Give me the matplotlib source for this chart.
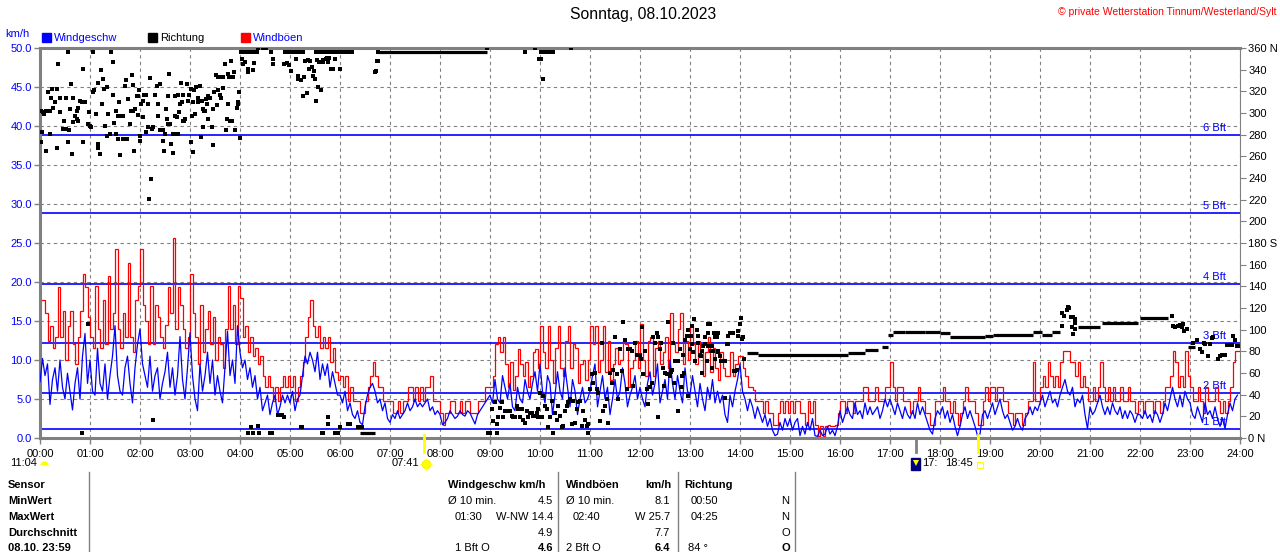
import numpy as np
import matplotlib
matplotlib.use('Agg')
import matplotlib.pyplot as plt
from matplotlib.lines import Line2D
from matplotlib.patches import Rectangle

plt.rcParams['font.family'] = ['Liberation Sans', 'DejaVu Sans']

W, H = 1280, 552
GRAY = '#808080'
BLUE = '#0000ff'

# wind speed in km/h, 3-minute readings, one row per hour (00:00 .. 23:57)
wind_speed = [
    [7.2, 10.2, 8.0, 9.5, 4.3, 7.5, 9.0, 6.0, 10.0, 6.5, 5.0, 8.3, 6.0, 3.6, 7.0, 9.0, 5.0, 10.5, 13.4, 7.0],
    [10.0, 6.0, 5.5, 11.5, 7.0, 6.0, 9.5, 5.0, 8.0, 10.5, 14.4, 8.0, 6.0, 5.5, 9.0, 10.5, 7.0, 4.5, 9.0, 12.0],
    [14.0, 9.5, 8.0, 6.5, 10.5, 6.0, 8.0, 9.0, 5.0, 7.0, 8.5, 11.0, 6.5, 9.0, 5.5, 8.0, 13.0, 7.5, 5.0, 9.0],
    [13.5, 8.0, 5.0, 3.5, 9.5, 6.0, 8.0, 11.0, 7.0, 10.0, 5.5, 8.0, 6.0, 4.5, 9.0, 13.7, 8.0, 10.0, 7.0, 14.4],
    [11.0, 9.0, 10.0, 7.5, 9.0, 6.5, 8.0, 5.0, 6.5, 3.5, 4.5, 5.5, 3.0, 4.5, 5.5, 3.0, 4.0, 5.5, 4.5, 5.5],
    [4.5, 6.0, 3.5, 5.0, 5.5, 8.0, 10.5, 9.5, 11.0, 10.0, 8.5, 11.0, 7.5, 9.5, 8.0, 9.5, 6.5, 8.5, 7.0, 5.5],
    [5.5, 4.5, 6.0, 3.5, 4.5, 3.0, 2.5, 3.5, 2.0, 1.7, 4.0, 5.5, 6.5, 7.0, 6.0, 4.5, 5.0, 3.5, 4.5, 2.5],
    [2.0, 3.0, 2.5, 3.5, 2.5, 3.0, 3.5, 4.5, 3.5, 4.0, 5.0, 4.0, 4.5, 4.0, 4.5, 5.0, 3.5, 4.0, 3.0, 3.5],
    [3.0, 1.7, 2.0, 2.5, 3.5, 3.0, 2.5, 2.8, 3.5, 3.0, 2.8, 3.5, 3.2, 2.5, 1.8, 3.0, 3.5, 4.0, 4.5, 5.0],
    [5.5, 4.5, 7.5, 5.0, 4.5, 8.0, 6.5, 5.0, 7.0, 4.0, 3.5, 6.5, 5.0, 4.5, 7.5, 6.0, 5.0, 7.0, 8.5, 6.0],
    [9.5, 6.0, 4.5, 8.0, 7.0, 3.0, 5.5, 8.5, 6.0, 5.0, 9.0, 6.5, 4.0, 7.5, 6.0, 3.0, 5.0, 6.5, 4.5, 5.0],
    [6.0, 8.0, 9.5, 4.0, 6.0, 8.0, 5.0, 6.5, 3.0, 5.0, 7.5, 5.0, 6.0, 9.0, 7.0, 4.0, 5.5, 6.5, 8.0, 5.0],
    [6.5, 5.0, 4.0, 7.0, 8.5, 5.5, 7.0, 9.5, 4.5, 6.0, 7.5, 5.0, 10.0, 7.0, 5.0, 8.0, 6.0, 4.5, 9.0, 6.0],
    [5.5, 8.0, 6.0, 4.0, 7.0, 5.0, 3.5, 6.5, 5.0, 7.5, 4.5, 6.0, 4.5, 5.5, 3.0, 2.0, 5.5, 4.0, 6.0, 7.5],
    [9.5, 6.0, 5.0, 3.5, 5.0, 4.0, 2.5, 4.0, 3.0, 2.0, 3.0, 1.5, 2.5, 1.0, 0.3, 0.5, 2.0, 1.0, 2.5, 1.5],
    [2.5, 1.0, 2.0, 2.5, 0.3, 1.5, 0.5, 2.0, 1.0, 2.5, 0.3, 0.2, 1.0, 0.3, 0.5, 1.5, 0.5, 1.0, 0.3, 1.5],
    [3.5, 2.0, 3.0, 4.0, 3.0, 2.5, 4.5, 3.0, 3.5, 2.5, 4.5, 3.0, 4.0, 3.0, 3.5, 4.0, 2.5, 3.5, 5.0, 4.0],
    [5.0, 4.0, 3.0, 4.5, 3.5, 2.5, 4.0, 3.0, 2.5, 3.5, 2.5, 4.5, 3.0, 4.0, 3.0, 2.0, 1.0, 0.5, 2.5, 3.5],
    [3.0, 4.0, 2.5, 3.5, 2.0, 3.0, 1.5, 0.3, 1.5, 3.0, 4.0, 2.5, 3.5, 2.5, 1.5, 0.3, 0.5, 3.0, 3.5, 2.5],
    [3.5, 4.5, 3.0, 4.0, 5.0, 3.5, 2.5, 3.0, 2.0, 1.0, 1.5, 2.5, 1.5, 1.0, 2.5, 3.0, 4.0, 3.0, 4.0, 3.5],
    [4.5, 5.5, 4.0, 5.0, 6.0, 4.5, 5.0, 4.0, 5.5, 6.5, 7.5, 6.0, 5.5, 6.5, 4.0, 5.0, 4.5, 5.5, 3.0, 1.2],
    [4.0, 3.0, 3.5, 4.5, 5.5, 4.0, 3.0, 4.0, 3.0, 4.5, 3.5, 3.0, 4.0, 2.5, 3.5, 2.5, 3.5, 3.0, 2.0, 3.0],
    [3.0, 2.5, 3.5, 2.5, 3.0, 2.0, 3.5, 3.0, 2.0, 3.0, 4.5, 3.5, 5.0, 6.5, 5.0, 4.0, 5.5, 4.0, 6.0, 5.0],
    [4.5, 3.0, 2.5, 4.0, 3.0, 2.0, 4.5, 3.0, 3.5, 2.5, 4.0, 2.5, 1.5, 2.5, 1.2, 3.0, 4.5, 3.5, 5.0, 5.5],
]

# gusts in km/h, same 3-minute grid
wind_gust = [
    [17.7, 17.7, 16.0, 12.5, 14.4, 11.5, 13.0, 19.4, 13.0, 16.3, 10.0, 14.4, 16.3, 12.0, 9.5, 13.0, 16.3, 21.0, 19.4, 15.5],
    [13.0, 11.5, 19.5, 14.0, 11.5, 17.7, 12.0, 20.8, 14.0, 16.0, 24.2, 14.0, 11.5, 16.0, 13.0, 22.5, 13.0, 11.0, 17.7, 19.5],
    [24.2, 17.0, 15.0, 12.0, 19.5, 12.0, 17.0, 15.5, 13.0, 11.5, 14.5, 19.4, 16.0, 25.7, 14.0, 19.4, 17.0, 14.0, 11.5, 13.0],
    [21.0, 16.0, 13.0, 9.5, 17.0, 11.0, 14.0, 16.3, 12.0, 15.5, 10.0, 13.0, 12.0, 9.0, 14.0, 19.5, 14.0, 17.0, 12.0, 19.5],
    [18.0, 13.0, 14.4, 11.0, 13.0, 10.5, 11.5, 9.5, 10.5, 8.0, 6.5, 8.0, 6.5, 4.7, 6.5, 4.7, 6.5, 8.0, 6.5, 8.0],
    [6.5, 8.0, 4.7, 6.5, 8.0, 9.7, 13.0, 15.5, 17.7, 14.4, 13.0, 14.4, 11.5, 13.0, 11.5, 13.0, 9.7, 11.5, 8.5, 7.5],
    [8.0, 6.5, 8.0, 4.7, 6.5, 4.7, 4.7, 4.7, 3.2, 3.2, 4.7, 6.5, 8.0, 9.7, 8.0, 6.5, 6.5, 4.7, 4.7, 4.7],
    [4.7, 3.2, 3.2, 4.7, 3.2, 4.7, 4.7, 6.5, 6.5, 4.7, 6.5, 4.7, 6.5, 4.7, 6.5, 6.5, 8.0, 4.7, 4.7, 4.7],
    [3.2, 1.7, 3.2, 3.2, 4.7, 4.7, 3.2, 3.2, 4.7, 3.2, 4.7, 4.7, 3.2, 3.2, 3.2, 4.7, 4.7, 4.7, 6.5, 6.5],
    [6.5, 8.0, 12.0, 13.0, 11.0, 13.0, 9.5, 6.5, 9.7, 6.2, 8.0, 11.4, 9.5, 8.0, 9.7, 6.5, 8.0, 11.0, 11.4, 9.0],
    [14.4, 11.0, 9.0, 14.4, 10.0, 7.0, 11.5, 14.4, 9.0, 8.0, 12.5, 14.4, 9.0, 12.0, 11.5, 7.0, 9.5, 10.0, 7.5, 10.0],
    [14.4, 12.0, 14.4, 8.5, 10.0, 14.4, 8.5, 12.5, 7.5, 9.5, 11.5, 9.5, 10.0, 12.5, 12.0, 6.5, 9.0, 10.0, 12.5, 9.0],
    [14.6, 10.0, 8.0, 12.5, 13.0, 8.0, 11.5, 12.5, 9.5, 11.0, 13.0, 9.0, 16.0, 12.0, 11.0, 14.0, 16.0, 9.5, 12.5, 10.0],
    [14.4, 12.0, 9.5, 12.5, 11.0, 8.0, 11.0, 13.0, 8.5, 11.5, 9.0, 7.5, 11.0, 9.0, 8.0, 8.0, 11.0, 8.0, 9.5, 10.5],
    [10.5, 9.0, 8.0, 6.5, 6.5, 6.2, 4.7, 4.7, 4.7, 3.2, 4.7, 3.2, 3.2, 1.7, 1.7, 3.2, 4.7, 3.2, 4.7, 3.2],
    [4.7, 3.2, 4.7, 4.7, 3.2, 3.2, 1.7, 4.7, 3.2, 4.7, 1.7, 0.3, 1.5, 0.3, 1.5, 1.7, 1.5, 1.5, 1.7, 3.2],
    [4.7, 4.7, 3.2, 4.7, 4.7, 3.2, 4.7, 4.7, 4.7, 6.5, 6.5, 4.7, 4.7, 4.7, 6.5, 4.7, 4.7, 4.7, 6.5, 6.5],
    [9.7, 6.5, 4.7, 6.5, 6.5, 4.7, 4.7, 4.7, 3.2, 4.7, 4.7, 6.5, 4.7, 4.7, 3.2, 3.2, 1.7, 1.7, 4.7, 4.7],
    [4.7, 6.5, 4.7, 4.7, 3.2, 4.7, 3.2, 1.7, 3.2, 4.7, 6.5, 4.7, 4.7, 4.7, 3.2, 1.7, 1.7, 4.7, 6.5, 4.7],
    [6.5, 6.5, 4.7, 6.5, 6.5, 4.7, 4.7, 3.2, 3.2, 1.7, 3.2, 3.2, 3.2, 1.7, 3.2, 4.7, 4.7, 9.7, 4.7, 4.7],
    [6.5, 8.0, 6.5, 9.7, 8.0, 6.5, 8.0, 6.5, 9.7, 11.2, 11.2, 11.2, 9.7, 9.7, 8.0, 9.7, 6.5, 8.0, 6.5, 4.7],
    [4.7, 6.5, 4.7, 6.5, 9.7, 6.5, 4.7, 6.5, 4.7, 6.5, 4.7, 4.7, 6.5, 4.7, 4.7, 6.5, 4.7, 4.7, 3.2, 4.7],
    [4.7, 3.2, 4.7, 4.7, 4.7, 3.2, 4.7, 4.7, 3.2, 4.7, 6.5, 6.5, 8.0, 11.2, 9.7, 6.5, 8.0, 6.5, 11.2, 8.0],
    [6.5, 4.7, 4.7, 6.5, 4.7, 3.2, 6.5, 4.7, 4.7, 4.7, 6.5, 4.7, 3.2, 4.7, 3.2, 4.7, 6.5, 9.7, 11.2, 11.2],
]

# wind direction readings (minute of day, degrees)
dir_night = [
    (1, 302), (3, 301), (5, 299), (7, 302), (9, 302), (12, 302), (2, 282), (1, 273), (7, 265), (12, 281),
    (9, 319), (14, 322), (13, 314), (16, 305), (18, 310), (20, 268), (20, 322), (22, 345), (24, 314), (24, 301),
    (27, 285), (29, 293), (31, 314), (31, 285), (33, 356), (34, 273), (35, 284), (36, 304), (37, 327), (38, 262),
    (39, 292), (40, 314), (42, 297), (44, 302), (44, 294), (45, 305), (46, 293), (48, 311), (50, 310), (51, 341),
    (52, 310), (52, 273), (54, 310), (57, 290), (59, 301), (60, 288),
    (61, 287), (63, 319), (64, 356), (65, 321), (67, 299), (69, 328), (69, 271), (70, 268), (72, 262), (73, 340),
    (74, 308), (76, 331), (77, 322), (78, 288), (80, 279), (80, 324), (82, 299), (84, 281), (85, 356), (87, 317),
    (87, 347), (89, 291), (91, 281), (91, 302), (93, 297), (94, 276), (95, 310), (96, 261), (97, 297), (99, 297),
    (99, 276), (102, 325), (103, 330), (104, 276), (106, 313), (108, 290), (109, 302), (110, 335), (111, 302),
    (112, 326), (113, 265), (114, 304), (116, 316), (117, 316), (117, 298), (119, 321), (120, 279), (120, 274),
    (121, 308), (123, 296), (124, 311), (125, 317), (127, 282), (127, 317), (129, 308), (130, 287), (132, 332),
    (133, 239), (131, 221), (134, 285), (136, 287), (138, 317), (140, 325), (141, 308), (142, 297), (144, 284),
    (144, 327), (146, 284), (147, 274), (147, 284), (149, 265), (150, 281), (151, 304), (152, 294), (153, 290),
    (154, 316), (155, 336), (156, 290), (157, 271), (159, 281), (159, 263), (161, 281), (162, 316), (162, 297),
    (164, 296), (165, 281), (166, 317), (167, 301), (168, 308), (169, 328), (170, 310), (171, 317), (172, 293),
    (173, 293), (174, 294), (176, 327), (177, 311), (179, 317),
    (181, 322), (181, 273), (182, 297), (183, 264), (184, 310), (185, 321), (186, 299), (187, 324), (189, 310),
    (189, 314), (192, 325), (193, 278), (194, 311), (195, 304), (196, 287), (197, 302), (198, 302), (199, 313),
    (200, 308), (201, 294), (202, 316), (204, 314), (206, 287), (207, 270), (207, 304), (209, 319), (211, 335),
    (212, 307), (213, 321), (214, 333), (215, 333), (216, 317), (217, 314), (219, 323), (219, 333), (220, 333),
    (222, 345), (223, 284), (224, 294), (225, 336), (226, 308), (227, 333), (228, 293), (229, 348), (230, 293),
    (231, 333), (232, 333), (233, 338), (234, 284), (236, 305), (237, 308), (237, 310), (239, 319), (240, 277),
    (50, 5), (57, 105), (136, 17),
]

dir_morning = [
    (241, 356), (243, 356), (245, 356), (247, 356), (249, 356), (252, 356), (254, 356), (256, 356), (258, 356),
    (260, 356), (242, 350), (244, 345), (246, 347), (249, 341), (249, 338), (256, 340), (257, 346), (262, 360),
    (267, 360), (271, 360), (277, 356), (279, 350), (280, 345), (294, 356), (297, 356), (299, 356), (293, 345),
    (296, 346), (299, 344),
    (301, 356), (303, 356), (305, 356), (307, 356), (309, 356), (312, 356), (314, 356), (316, 356), (307, 350),
    (301, 339), (309, 334), (309, 331), (313, 330), (317, 333), (316, 316), (320, 318), (318, 348), (322, 349),
    (323, 341), (324, 348), (326, 342), (327, 334), (329, 339), (330, 331), (331, 356), (332, 349), (333, 324),
    (334, 356), (335, 347), (337, 356), (337, 321), (339, 347), (340, 349), (342, 356), (343, 350), (344, 351),
    (345, 356), (346, 347), (347, 351), (348, 356), (349, 341), (350, 341), (351, 341), (352, 356), (354, 350),
    (356, 356), (331, 311), (357, 356), (360, 341),
    (361, 356), (363, 356), (365, 356), (367, 356), (369, 356), (372, 356), (374, 356), (402, 338), (403, 339),
    (404, 348), (406, 348), (405, 356),
    (537, 360), (582, 356), (594, 360), (599, 350), (601, 350), (601, 356), (603, 356), (605, 356), (607, 356),
    (609, 356), (612, 356), (614, 356), (616, 356), (604, 331), (637, 360),
    (249, 5), (256, 5), (263, 5), (253, 10), (262, 11), (276, 5), (278, 5), (285, 21), (288, 21), (290, 21),
    (293, 19), (313, 10), (314, 10), (338, 5), (340, 5), (345, 13), (346, 19), (354, 5), (357, 5), (360, 10),
    (370, 13), (372, 13), (382, 10), (384, 10), (386, 10), (538, 5), (540, 5), (548, 5),
]

dir_day = [
    (542, 27), (544, 16), (546, 33), (548, 13), (550, 19), (552, 28), (554, 33), (556, 19), (558, 25), (560, 25),
    (562, 25), (564, 25), (566, 20), (568, 19), (570, 19), (572, 30), (574, 27), (576, 19), (578, 27), (580, 17),
    (582, 14), (584, 25), (586, 19), (588, 23), (590, 23), (592, 20), (594, 20), (596, 23), (598, 27), (598, 19),
    (600, 42), (602, 19), (604, 39), (606, 30), (608, 27), (610, 10), (612, 19), (614, 34), (616, 5), (618, 23),
    (620, 17), (622, 30), (624, 20), (626, 10), (628, 11), (630, 25), (632, 30), (634, 33), (636, 36), (638, 13),
    (640, 34), (642, 14), (644, 27), (646, 33), (648, 34), (650, 11), (652, 25), (654, 17), (656, 11), (658, 13),
    (658, 5), (660, 45), (662, 59), (664, 51), (666, 60), (668, 45), (670, 42), (672, 16), (674, 88), (676, 25),
    (678, 30), (680, 36), (682, 14), (684, 60), (686, 51), (688, 63), (690, 93), (692, 59), (694, 36), (696, 82),
    (698, 62), (700, 107), (702, 90), (704, 45), (706, 82), (708, 82), (710, 80), (712, 48), (714, 88), (716, 77),
    (718, 77), (720, 77),
    (721, 73), (722, 102), (724, 59), (726, 80), (728, 45), (730, 31), (732, 47), (734, 51), (736, 93), (738, 88),
    (740, 97), (741, 19), (742, 93), (744, 82), (745, 88), (748, 65), (749, 48), (750, 60), (752, 59), (753, 107),
    (754, 107), (756, 57), (757, 61), (758, 63), (760, 88), (761, 51), (762, 71), (764, 71), (765, 71), (766, 71),
    (766, 25), (768, 82), (769, 47), (770, 57), (772, 77), (773, 60), (774, 90), (776, 94), (777, 39), (778, 100),
    (780, 82), (781, 94), (782, 103), (782, 87), (784, 79), (785, 110), (786, 71), (788, 100), (789, 88), (790, 94),
    (790, 88), (792, 77), (793, 76), (794, 80), (794, 60), (796, 85), (798, 87), (798, 93), (800, 71), (801, 105),
    (802, 97), (802, 85), (804, 105), (805, 80), (806, 85), (806, 65), (808, 80), (809, 97), (810, 73), (810, 93),
    (812, 93), (813, 79), (814, 80), (814, 97), (816, 76), (817, 71), (820, 71), (822, 71), (822, 37), (824, 87),
    (825, 87), (826, 94), (826, 87), (828, 97), (829, 97), (830, 97), (832, 97), (833, 62), (834, 62), (836, 63),
    (838, 94), (838, 99), (840, 105), (841, 111), (842, 91), (844, 93), (845, 73),
]

dir_evening = [
    (1226, 103), (1226, 115), (1229, 113), (1232, 118), (1233, 121), (1235, 120), (1237, 112), (1240, 112),
    (1242, 110), (1242, 106), (1238, 102), (1239, 96), (1242, 101),
    (1358, 113), (1360, 103), (1362, 102), (1365, 103), (1368, 104), (1370, 102), (1372, 105), (1373, 99),
    (1376, 101), (1384, 88), (1388, 90), (1392, 82), (1394, 79), (1397, 88), (1398, 87), (1401, 76), (1404, 87),
    (1406, 92), (1408, 93), (1414, 73), (1416, 76), (1418, 77), (1420, 77), (1422, 77), (1424, 86), (1426, 86),
    (1428, 86), (1430, 86), (1432, 94), (1434, 90), (1436, 85), (1438, 85),
]

# steady direction stretches: (start minute, end minute, degrees)
dir_steady = [
    (406, 536, 356), (384, 402, 5),
    (848, 862, 78), (862, 970, 77), (970, 990, 78), (990, 1006, 81), (1010, 1017, 84), (1017, 1024, 95),
    (1024, 1038, 98), (1038, 1062, 97.5), (1062, 1080, 98), (1080, 1092, 97), (1092, 1134, 93),
    (1134, 1144, 94), (1144, 1192, 95), (1192, 1202, 98), (1202, 1214, 95), (1214, 1224, 98),
    (1246, 1272, 102), (1274, 1318, 106), (1320, 1354, 111), (1378, 1386, 84),
]

bft_kmh = [1.1, 5.8, 12.2, 19.8, 28.8, 38.9]
bft_names = ['1 Bft', '2 Bft', '3 Bft', '4 Bft', '5 Bft', '6 Bft']

hour_labels = ['%02d:00' % h for h in range(25)]
deg_ticks = list(range(0, 361, 20))
deg_names = {0: 'N', 180: 'S', 360: 'N'}

table_rows = ['Sensor', 'MinWert', 'MaxWert', 'Durchschnitt', '08.10. 23:59']
speed_col = [('Ø 10 min.', '4.5'), ('01:30', 'W-NW 14.4'), ('', '4.9'), ('1 Bft O', '4.6')]
gust_col = [('Ø 10 min.', '8.1'), ('02:40', 'W 25.7'), ('', '7.7'), ('2 Bft O', '6.4')]
dir_col = [('00:50', 'N'), ('04:25', 'N'), ('', 'O'), ('84 °', 'O')]

speed = np.ravel(wind_speed)
gust = np.ravel(wind_gust)
t = np.arange(len(speed)) / 20.0
edges = np.arange(len(gust) + 1) / 20.0

fig = plt.figure(figsize=(W / 100, H / 100), dpi=100)
ax = fig.add_axes([40 / W, 1 - 438 / H, 1200 / W, 390 / H])
ax.set_xlim(0, 24)
ax.set_ylim(0, 50)

ax.set_xticks(range(25))
ax.set_xticklabels(hour_labels, fontsize=8)
ax.set_yticks(np.arange(0, 51, 5))
ax.set_yticklabels(['%.1f' % v for v in np.arange(0, 51, 5)], fontsize=8, color=BLUE)
ax.tick_params(axis='both', length=4, width=1, color=GRAY, pad=2)
ax.tick_params(axis='x', pad=4)
ax.grid(True, color=GRAY, lw=0.8, ls=(0, (3, 3)))
ax.set_axisbelow(True)
for side in ['left', 'top', 'bottom']:
    ax.spines[side].set_color(GRAY)
    ax.spines[side].set_linewidth(2.2)
ax.spines['right'].set_visible(False)

for v, name in zip(bft_kmh, bft_names):
    ax.axhline(v, color=BLUE, lw=1.2, zorder=1.5)
    ax.text(23.72, v + 0.25, name, color=BLUE, fontsize=8, ha='right', va='bottom', zorder=1.6)

ax.stairs(gust, edges, color='#ff0000', lw=0.9, baseline=None, zorder=2)
ax.plot(t, speed, color=BLUE, lw=0.9, zorder=3)

ax2 = ax.twinx()
ax2.set_ylim(0, 360)
ax2.set_yticks(deg_ticks)
ax2.set_yticklabels([('%d %s' % (d, deg_names[d])) if d in deg_names else str(d) for d in deg_ticks],
                    fontsize=8)
ax2.tick_params(axis='y', length=4, color=GRAY, pad=2)
for side in ['left', 'top', 'bottom']:
    ax2.spines[side].set_visible(False)
ax2.spines['right'].set_color(GRAY)

dots = np.array(dir_night + dir_morning + dir_day + dir_evening, dtype=float)
ax2.plot(dots[:, 0] / 60, dots[:, 1], ls='none', marker='s', ms=2.3, color='black', mew=0)
for start, end, deg in dir_steady:
    ax2.hlines(deg, start / 60, end / 60, color='black', lw=2.3)

# sun / moon marks on the time axis
xt = ax.get_xaxis_transform()
ax.plot([7 + 41 / 60] * 2, [0.008, -0.035], transform=xt, clip_on=False, color='#ffff00', lw=2, zorder=5)
ax.plot([18.75] * 2, [0.008, -0.035], transform=xt, clip_on=False, color='#ffff00', lw=2, zorder=5)
ax.plot([17.52] * 2, [0.0, -0.035], transform=xt, clip_on=False, color=GRAY, lw=2, zorder=5)


def ftext(x, y, s, **kw):
    kw.setdefault('fontsize', 8)
    kw.setdefault('va', 'center')
    fig.text(x / W, 1 - y / H, s, **kw)


def fmark(x, y, **kw):
    fig.add_artist(Line2D([x / W], [1 - y / H], transform=fig.transFigure, ls='none', **kw))


ftext(643, 15, 'Sonntag, 08.10.2023', fontsize=11.3, ha='center')
ftext(1277, 12, '© private Wetterstation Tinnum/Westerland/Sylt', fontsize=7.5, color='#ff0000', ha='right')
ftext(5, 34, 'km/h', color=BLUE)

legend = [(42, BLUE, 'Windgeschw', BLUE), (148, 'black', 'Richtung', 'black'), (241, '#ff0000', 'Windböen', BLUE)]
for x, c, label, tc in legend:
    fig.add_artist(Rectangle((x / W, 1 - 42 / H), 9 / W, 9 / H, transform=fig.transFigure, color=c))
    ftext(x + 12, 38, label, color=tc)

ftext(10, 463, '11:04')
fmark(44, 465, marker='o', ms=6, fillstyle='top', mfc='#ffff00', mfcalt='none', mew=0)
ftext(392, 463, '07:41')
fmark(426, 464, marker='o', ms=6, mfc='#ffff00', mec='#ffee00', mew=0.8)
fmark(426, 464, marker='+', ms=9, mec='#ffff00', mew=1)
fig.add_artist(Rectangle((911 / W, 1 - 470 / H), 9 / W, 12 / H, transform=fig.transFigure, color='#000080'))
fmark(915.5, 463, marker='v', ms=4, mfc='#ffff00', mew=0)
ftext(922, 463, '17:')
ftext(945, 463, '18:45')
fmark(980, 465, marker='s', ms=4, mfc='none', mec='#ffff00', mew=0.8)

# statistics table
for x in [89, 558, 678, 795]:
    fig.add_artist(Line2D([x / W] * 2, [1 - 472 / H, 0], transform=fig.transFigure, color=GRAY, lw=1))

row_y = [485, 501, 517, 533, 548]
for y, name in zip(row_y, table_rows):
    ftext(8, y, name, weight='bold')

ftext(448, row_y[0], 'Windgeschw km/h', weight='bold')
ftext(566, row_y[0], 'Windböen', weight='bold')
ftext(671, row_y[0], 'km/h', weight='bold', ha='right')
ftext(684, row_y[0], 'Richtung', weight='bold')
for i, y in enumerate(row_y[1:]):
    bold = 'bold' if i == 3 else 'normal'
    a, b = speed_col[i]
    ftext(448 if i == 0 else 455, y, a)
    ftext(553, y, b, ha='right', weight=bold)
    a, b = gust_col[i]
    ftext(566 if i in (0, 3) else 573, y, a)
    ftext(670, y, b, ha='right', weight=bold)
    a, b = dir_col[i]
    ftext(688 if i == 3 else 691, y, a)
    ftext(781, y, b, weight=bold)

fig.savefig('out.png', dpi=100)
